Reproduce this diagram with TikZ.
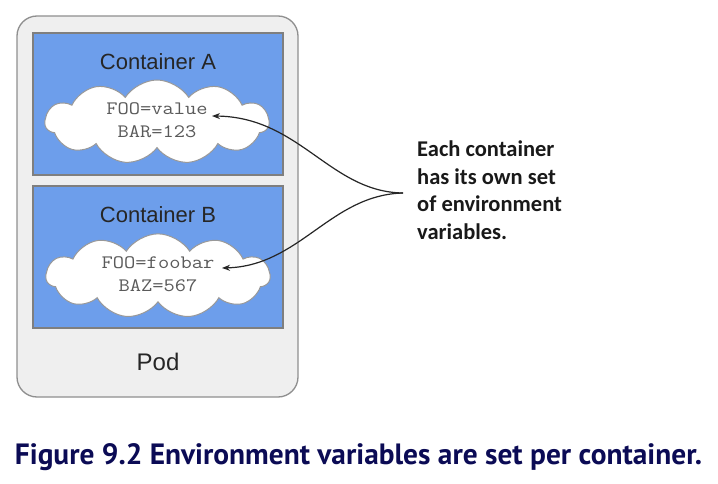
\documentclass[tikz,border=0pt]{standalone}
\usepackage{fontspec}
\setmainfont{Liberation Sans}
\newfontfamily\carl{Carlito}
\newfontfamily\capf{PT Sans}
\usetikzlibrary{shapes.symbols,arrows.meta}
\definecolor{podfill}{HTML}{EFEFEF}
\definecolor{podline}{HTML}{8F8F8F}
\definecolor{cblue}{HTML}{6D9EEB}
\definecolor{cline}{HTML}{7F7F7F}
\definecolor{navy}{HTML}{0B0B55}
\definecolor{vartext}{HTML}{5A5A5A}
\newcommand{\envlines}[2]{\scalebox{1.15}[1]{\begin{tabular}{@{}c@{}}#1\\[2pt]#2\end{tabular}}}
\tikzset{
  podbox/.style={draw=podline, fill=podfill, line width=1.3pt, rounded corners=20pt},
  contbox/.style={draw=cline, fill=cblue, line width=1.3pt},
  ctitle/.style={font=\fontsize{22}{26}\selectfont, text=black!85},
  envcloud/.style={cloud, cloud puffs=11, cloud puff arc=115, cloud ignores aspect, draw=cline!80, fill=white, line width=1pt, minimum width=224pt, minimum height=84pt, inner sep=0pt, align=center, font=\ttfamily\fontsize{19}{21}\selectfont, text=vartext},
  conn/.style={-{Stealth[length=8pt,width=6pt]}, line width=1.2pt, black!85},
}
\begin{document}
\begin{tikzpicture}[x=1pt,y=-1pt]
\useasboundingbox (0,0) rectangle (718,484);
\fill[white] (0,0) rectangle (718,484);
\draw[podbox] (17,16) rectangle (298,397);
\draw[contbox] (33,33) rectangle (283,175);
\draw[contbox] (33,186) rectangle (283,328);
\node[ctitle] (ta) at (158,62) {Container A};
\node[ctitle] (tb) at (158,215) {Container B};
\node[ctitle, font=\fontsize{24}{28}\selectfont] (pod) at (158,362) {Pod};
\node[envcloud] (ca) at (157,122) {\envlines{FOO=value}{BAR=123}};
\node[envcloud] (cb) at (158,276) {\envlines{FOO=foobar}{BAZ=567}};
\coordinate (ea) at (212,116);
\coordinate (eb) at (222,268);
\coordinate (m) at (403,193);
\node[anchor=north west, align=left, inner sep=0pt, font=\carl\bfseries\fontsize{22.5}{27.5}\selectfont, text=black!90] (note) at (417,141) {Each container\\has its own set\\of environment\\variables.};
\draw[conn] (m) .. controls (330,192) and (300,117) .. (ea);
\draw[conn] (m) .. controls (330,195) and (300,266) .. (eb);
\node[inner sep=0pt, anchor=base, text=navy] (cap) at (358.5,464) {\resizebox{687pt}{!}{\capf\bfseries Figure 9.2 Environment variables are set per container.}};
\end{tikzpicture}
\end{document}
